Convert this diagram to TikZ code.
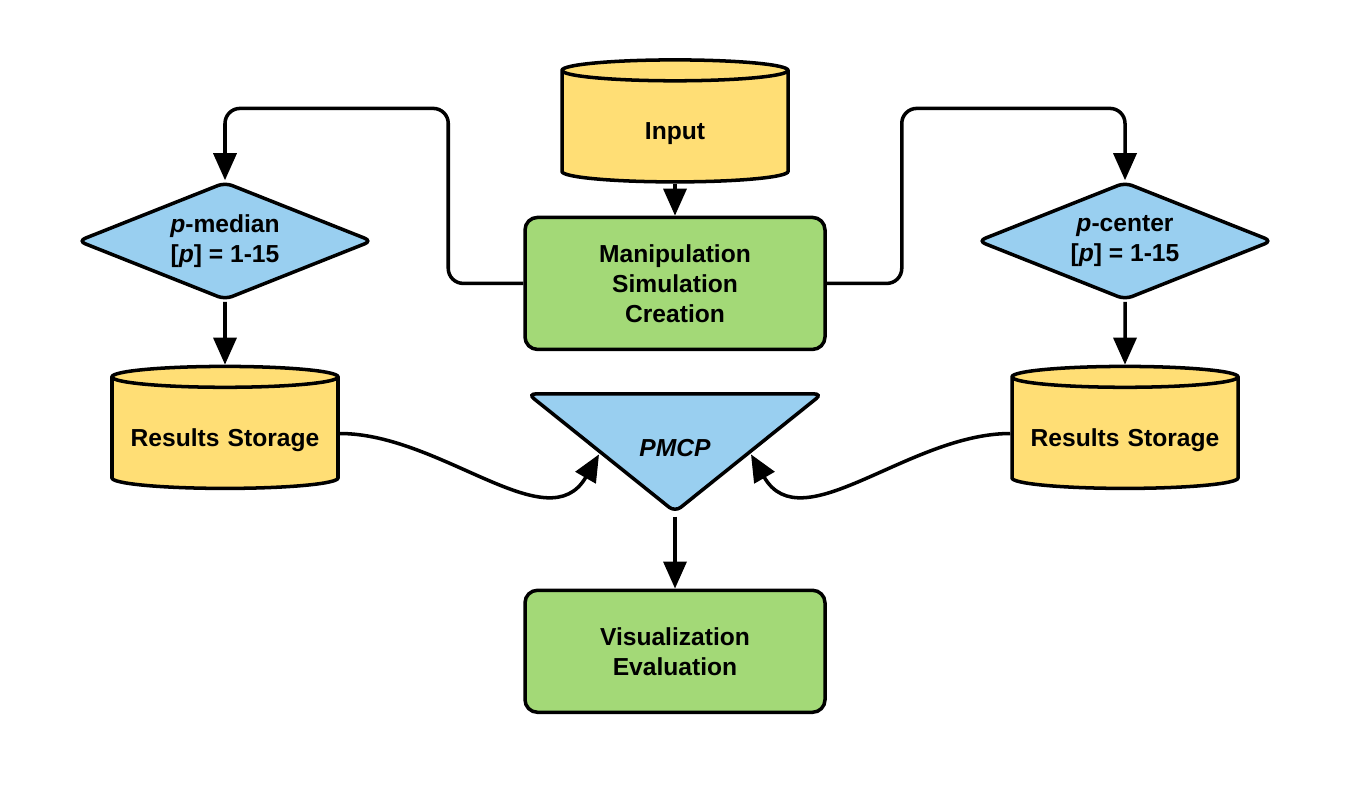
\documentclass[tikz,border=0pt]{standalone}
\usepackage{fontspec}
\setmainfont{Liberation Sans}
\usetikzlibrary{calc,positioning,shapes.geometric,arrows.meta}

\begin{document}
\begin{tikzpicture}[
            node distance=7mm,
            line width=2pt,
            font=\fontsize{14}{17}\selectfont\bfseries,
            link/.style={line width=2pt,-{Triangle[length=5.4mm,width=4.6mm]}}
        ]
            \colorlet{ylx}{rgb,255:red,255;green,222;blue,117}
            \colorlet{gnx}{rgb,255:red,163;green,217;blue,119}
            \colorlet{bux}{rgb,255:red,153;green,207;blue,240}
            \useasboundingbox (0,0) rectangle (27,-15.76);

            \begin{scope}[
                every node/.style={cylinder,shape border rotate=90,aspect=0.11,draw,fill=ylx,
                    minimum width=4.52cm,minimum height=2.44cm,inner sep=0pt,
                    text width=3.8cm,align=center,text height=14.4pt,text depth=0pt}
            ]
                \node (input) at (13.5,-2.54) {Input};
                \node (resl)  at (4.5,-8.67)  {Results Storage};
                \node (resr)  at (22.5,-8.67) {Results Storage};
            \end{scope}

            \begin{scope}[
                every node/.style={draw,fill=gnx,rounded corners=2.5mm,align=center,
                    minimum width=6cm,inner sep=0pt}
            ]
                \node (manip) [below=6.4mm of input,minimum height=2.64cm] {Manipulation\\Simulation\\Creation};
            \end{scope}

            \begin{scope}[
                every node/.style={diamond,aspect=2.5,draw,fill=bux,rounded corners=1.5mm,align=center,
                    minimum width=5.9cm,minimum height=2.36cm,inner sep=0pt}
            ]
                \node (pmed) at (4.5,-4.82)  {\textit{p}-median\\{}[\textit{p}] = 1-15};
                \node (pcen) at (22.5,-4.82) {\textit{p}-center\\{}[\textit{p}] = 1-15};
            \end{scope}

            \node (pmcp) [isosceles triangle,shape border rotate=270,isosceles triangle stretches,
                draw,fill=bux,rounded corners=1.5mm,inner sep=0pt,
                minimum width=5.88cm,minimum height=2.36cm,below=8.2mm of manip] {};
            \node (pmcpt) at ($(pmcp.left corner)!.5!(pmcp.right corner)!.45!(pmcp.apex)$) {\textit{PMCP}};
            \node (visu) [draw,fill=gnx,rounded corners=2.5mm,align=center,minimum width=6cm,
                minimum height=2.44cm,inner sep=0pt,below=14.4mm of pmcp.apex] {Visualization\\Evaluation};

            \draw [link] (input) -- (manip);
            \draw [link,rounded corners=3mm] (manip.west) -| ($(manip.west)+(-1.5,3.5)$) -| (pmed.north);
            \draw [link,rounded corners=3mm] (manip.east) -| ($(manip.east)+(1.5,3.5)$) -| (pcen.north);
            \draw [link] (pmed) -- (resl);
            \draw [link] (pcen) -- (resr);
            \draw [link] (resl.east) to[out=0,in=240] ($(pmcp.apex)!.5!(pmcp.right corner)$);
            \draw [link] (resr.west) to[out=180,in=-60] ($(pmcp.apex)!.5!(pmcp.left corner)$);
            \draw [link] (pmcp.apex) -- (visu);
        \end{tikzpicture}
\end{document}
